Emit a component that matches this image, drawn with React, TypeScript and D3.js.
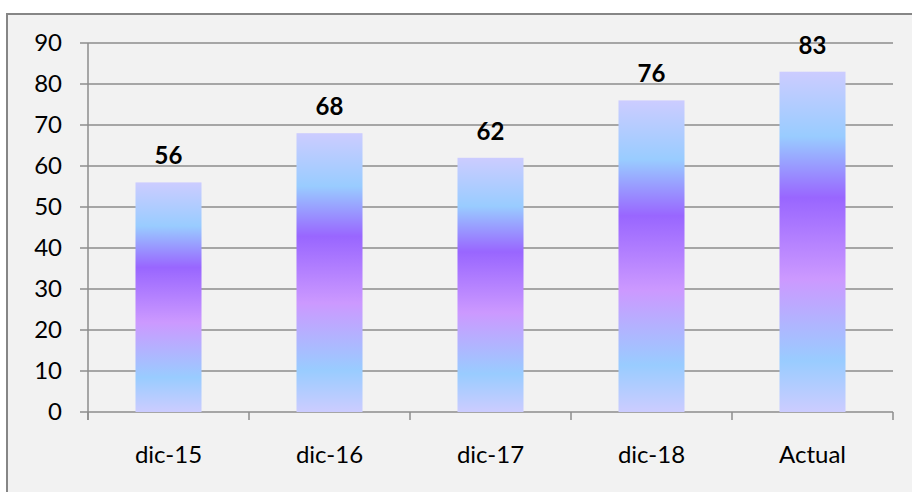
import React from 'react';
import * as d3 from 'd3';

const categories = ['dic-15', 'dic-16', 'dic-17', 'dic-18', 'Actual'];
const values = [56, 68, 62, 76, 83];
const yTicks = [0, 10, 20, 30, 40, 50, 60, 70, 80, 90];

const width = 912;
const height = 492;
const plot = { left: 88, right: 893, top: 43, bottom: 412 };
const font = 'Lato, "Open Sans", "Liberation Sans", sans-serif';

export default function App() {
  const x = d3.scaleBand<string>()
    .domain(categories)
    .range([plot.left, plot.right])
    .paddingInner(0.59)
    .paddingOuter(0.295);

  const y = d3.scaleLinear().domain([0, 90]).range([plot.bottom, plot.top]);
  const step = x.step();
  const boundaries = d3.range(categories.length + 1).map(i => plot.left + i * step);

  return (
    <svg
      width={width}
      height={height}
      style={{ position: 'absolute', left: 0, top: 0, background: '#ffffff' }}
    >
      <defs>
        <linearGradient id="barGrad" x1="0" y1="0" x2="0" y2="1">
          <stop offset="0%" stopColor="#ccccff" />
          <stop offset="19%" stopColor="#99ccff" />
          <stop offset="37%" stopColor="#9966ff" />
          <stop offset="61%" stopColor="#cc99ff" />
          <stop offset="85%" stopColor="#99ccff" />
          <stop offset="100%" stopColor="#ccccff" />
        </linearGradient>
      </defs>

      {/* chart area frame, right and bottom edges fall outside the picture */}
      <rect x={7} y={14} width={920} height={490} fill="#f2f2f2" stroke="#868686" strokeWidth={2} />

      {/* gridlines + y ticks */}
      {yTicks.map(t => (
        <g key={t}>
          <line x1={plot.left - 8} x2={plot.right} y1={y(t)} y2={y(t)} stroke="#8c8c8c" strokeWidth={1.5} />
          <text
            x={62}
            y={y(t)}
            dy="0.35em"
            textAnchor="end"
            fontFamily={font}
            fontSize={24}
            fill="#000"
          >
            {t}
          </text>
        </g>
      ))}

      {/* y axis line */}
      <line x1={plot.left} x2={plot.left} y1={plot.top} y2={plot.bottom + 8} stroke="#8c8c8c" strokeWidth={1.5} />

      {/* x ticks */}
      {boundaries.map((bx, i) => (
        <line key={i} x1={bx} x2={bx} y1={plot.bottom} y2={plot.bottom + 8} stroke="#8c8c8c" strokeWidth={1.5} />
      ))}

      {/* bars */}
      {values.map((v, i) => {
        const bx = x(categories[i]) ?? 0;
        return (
          <g key={categories[i]}>
            <rect x={bx} y={y(v)} width={x.bandwidth()} height={y(0) - y(v)} fill="url(#barGrad)" />
            <text
              x={bx + x.bandwidth() / 2}
              y={y(v) - 18}
              textAnchor="middle"
              fontFamily={font}
              fontSize={24}
              fontWeight="bold"
              fill="#000"
            >
              {v}
            </text>
          </g>
        );
      })}

      {/* category labels */}
      {categories.map(c => (
        <text
          key={c}
          x={(x(c) ?? 0) + x.bandwidth() / 2}
          y={463}
          textAnchor="middle"
          fontFamily={font}
          fontSize={24}
          fill="#000"
        >
          {c}
        </text>
      ))}
    </svg>
  );
}
